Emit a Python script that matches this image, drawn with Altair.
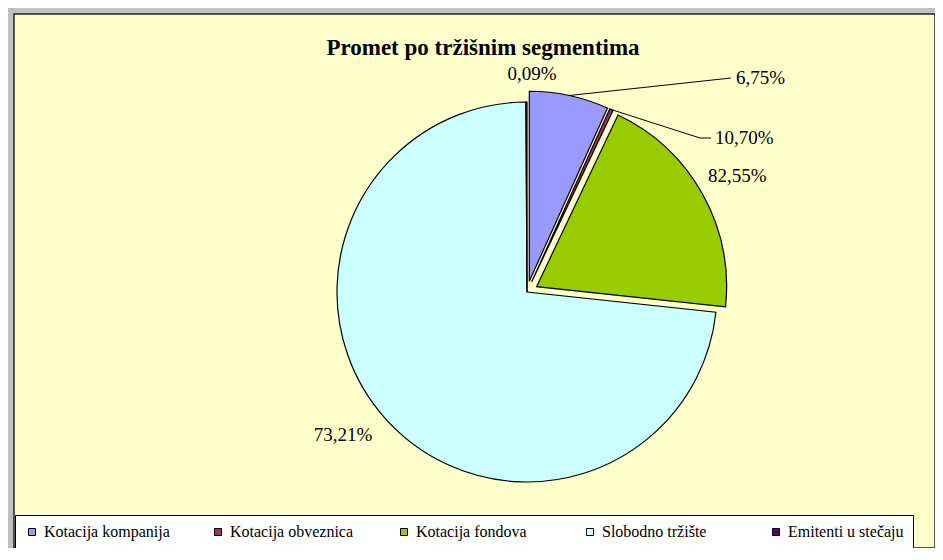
import math
import altair as alt
import pandas as pd

# ---- data ----
categories = ["Kotacija kompanija", "Kotacija obveznica", "Kotacija fondova",
              "Slobodno tržište", "Emitenti u stečaju"]
shares = [6.75, 0.30, 19.65, 73.21, 0.09]
label_texts = ["6,75%", "10,70%", "82,55%", "73,21%", "0,09%"]
colors = ["#9999FF", "#993366", "#99CC00", "#CCFFFF", "#660066"]

# ---- layout (pixels, view coordinates) ----
CX, CY = 513, 278          # pie centre
R = 190                    # pie radius
explode = [11, 11, 11, 0, 0]
label_dx = [209, 188, 181, -184, 5]
label_dy = [-214, -154, -116, 143, -218]
label_align = ["left", "left", "left", "center", "center"]
elbow_dx = [204, 173, None, None, None]
elbow_dy = [-214, -154, None, None, None]
end_dx = [204, 184, None, None, None]
end_dy = [-214, -154, None, None, None]

df = pd.DataFrame({
    "cat": categories, "share": shares, "label": label_texts,
    "order": list(range(len(categories))), "explode": explode,
    "ldx": label_dx, "ldy": label_dy, "align": label_align,
    "edx": elbow_dx, "edy": elbow_dy, "fdx": end_dx, "fdy": end_dy,
})

FONT = "Liberation Serif"

base = (
    alt.Chart(df)
    .transform_joinaggregate(total="sum(share)")
    .transform_window(cum="sum(share)", sort=[alt.SortField("order")], frame=[None, 0])
    .transform_calculate(
        startp="100*(datum.cum - datum.share)/datum.total",
        endp="100*datum.cum/datum.total",
        mid="2*PI*(datum.cum - datum.share/2)/datum.total",
    )
    .transform_calculate(
        px=f"{CX} + datum.explode*sin(datum.mid)",
        py=f"{CY} - datum.explode*cos(datum.mid)",
        lx=f"{CX} + datum.ldx",
        ly=f"{CY} + datum.ldy",
    )
)

legend = alt.Legend(
    title=None, orient="none", legendX=1, legendY=501,
    direction="horizontal", columns=5, gridAlign="all", columnPadding=40,
    symbolType="square", symbolSize=49, symbolStrokeColor="black",
    symbolStrokeWidth=1, labelFont=FONT, labelFontSize=16, labelColor="black",
    fillColor="white", strokeColor="black", padding=9, labelOffset=4,
    labelLimit=400,
)

arcs = base.mark_arc(radius=R, stroke="black", strokeWidth=1.2).encode(
    x=alt.X("px:Q", scale=None),
    y=alt.Y("py:Q", scale=None),
    theta=alt.Theta("startp:Q", scale=alt.Scale(domain=[0, 100], range=[0, 2 * math.pi])),
    theta2="endp:Q",
    color=alt.Color("cat:N", scale=alt.Scale(domain=categories, range=colors), legend=legend),
    order=alt.Order("order:Q"),
)

leaders = base.transform_filter("isValid(datum.edx)").transform_calculate(
    sx=f"datum.px + {R}*sin(datum.mid)",
    sy=f"datum.py - {R}*cos(datum.mid)",
    ex=f"{CX} + datum.edx",
    ey=f"{CY} + datum.edy",
    fx=f"{CX} + datum.fdx",
    fy=f"{CY} + datum.fdy",
)
lead1 = leaders.mark_rule(color="black", strokeWidth=1).encode(
    x=alt.X("sx:Q", scale=None), y=alt.Y("sy:Q", scale=None),
    x2="ex:Q", y2="ey:Q",
)
lead2 = leaders.mark_rule(color="black", strokeWidth=1).encode(
    x=alt.X("ex:Q", scale=None), y=alt.Y("ey:Q", scale=None),
    x2="fx:Q", y2="fy:Q",
)

text_left = base.transform_filter("datum.align == 'left'").mark_text(
    font=FONT, fontSize=19, color="black", align="left", baseline="middle"
).encode(x=alt.X("lx:Q", scale=None), y=alt.Y("ly:Q", scale=None), text="label:N")

text_center = base.transform_filter("datum.align == 'center'").mark_text(
    font=FONT, fontSize=19, color="black", align="center", baseline="middle"
).encode(x=alt.X("lx:Q", scale=None), y=alt.Y("ly:Q", scale=None), text="label:N")

chart = (
    alt.layer(arcs, lead1, lead2, text_left, text_center)
    .properties(
        width=921, height=534,
        padding={"left": 6, "top": 6, "right": 0, "bottom": 0},
        autosize=alt.AutoSizeParams(type="none"),
        background="#C0C0C0",
        title=alt.TitleParams(
            text="Promet po tržišnim segmentima", font=FONT, fontSize=23,
            fontWeight="bold", color="black", anchor="middle", frame="group",
            baseline="alphabetic", offset=0, dx=8.5, dy=64,
        ),
    )
    .configure_view(fill="#FFFFCC", stroke="#222222", strokeWidth=1.5)
    .configure_legend(labelFont=FONT)
)

chart.save("out.html", embed_options={"renderer": "svg", "actions": False})
